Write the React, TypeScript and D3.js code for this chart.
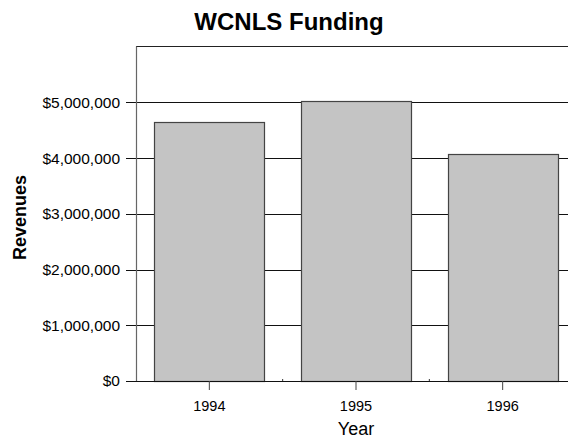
import React from "react";
import * as d3 from "d3";

const years = ["1994", "1995", "1996"];
const revenues = [4650000, 5020000, 4070000];
const yTicks = [0, 1000000, 2000000, 3000000, 4000000, 5000000];
const title = "WCNLS Funding";
const xTitle = "Year";
const yTitle = "Revenues";

export default function App() {
  const W = 568, H = 438;
  const left = 136, right = 576, top = 46.7, bottom = 381;
  const x = d3.scaleBand<string>().domain(years).range([left, right]).paddingInner(0.25).paddingOuter(0.125);
  const y = d3.scaleLinear().domain([0, 6000000]).range([bottom, top]);
  const fmt = (v: number) => "$" + d3.format(",")(v);
  const font = "Liberation Sans, Arial, sans-serif";
  const step = x.step();
  const boundaries = [1, 2].map((i) => left + step * i);
  return (
    <svg width={W} height={H} style={{ position: "absolute", left: 0, top: 0, background: "#fff" }} fontFamily={font}>
      <rect x={0} y={0} width={W} height={H} fill="#fff" />
      {yTicks.map((t) => (
        <line key={t} x1={126} x2={right} y1={Math.round(y(t)) + 0.5} y2={Math.round(y(t)) + 0.5} stroke="#111" strokeWidth={1} />
      ))}
      <line x1={left} x2={right} y1={46.5} y2={46.5} stroke="#222" strokeWidth={1} />
      <line x1={left + 0.5} x2={left + 0.5} y1={46.5} y2={bottom} stroke="#666" strokeWidth={1.2} />
      {years.map((yr, i) => (
        <rect key={yr} x={Math.round(x(yr)!) + 0.5} y={Math.round(y(revenues[i])) + 0.5} width={Math.round(x.bandwidth())} height={Math.round(bottom - y(revenues[i]))} fill="#c4c4c4" stroke="#444" strokeWidth={1.2} />
      ))}
      <line x1={126} x2={right} y1={bottom + 0.5} y2={bottom + 0.5} stroke="#111" strokeWidth={1.2} />
      {boundaries.map((b, i) => (
        <line key={i} x1={b} x2={b} y1={bottom} y2={bottom - 2} stroke="#333" strokeWidth={1} />
      ))}
      {years.map((yr) => {
        const cx = x(yr)! + x.bandwidth() / 2;
        return (
          <g key={yr}>
            <line x1={cx} x2={cx} y1={bottom} y2={390} stroke="#444" strokeWidth={1} />
            <text x={cx} y={411} textAnchor="middle" fontSize={14.5} fill="#000">{yr}</text>
          </g>
        );
      })}
      {yTicks.map((t) => (
        <text key={t} x={120} y={y(t)} dy="0.35em" textAnchor="end" fontSize={15.5} fill="#000">{fmt(t)}</text>
      ))}
      <text x={289} y={30} textAnchor="middle" fontSize={24} fontWeight="bold" fill="#000">{title}</text>
      <text x={356} y={434.5} textAnchor="middle" fontSize={18} fill="#000">{xTitle}</text>
      <text transform="translate(25.5,217.5) rotate(-90)" textAnchor="middle" fontSize={18} fontWeight="bold" fill="#000">{yTitle}</text>
    </svg>
  );
}
